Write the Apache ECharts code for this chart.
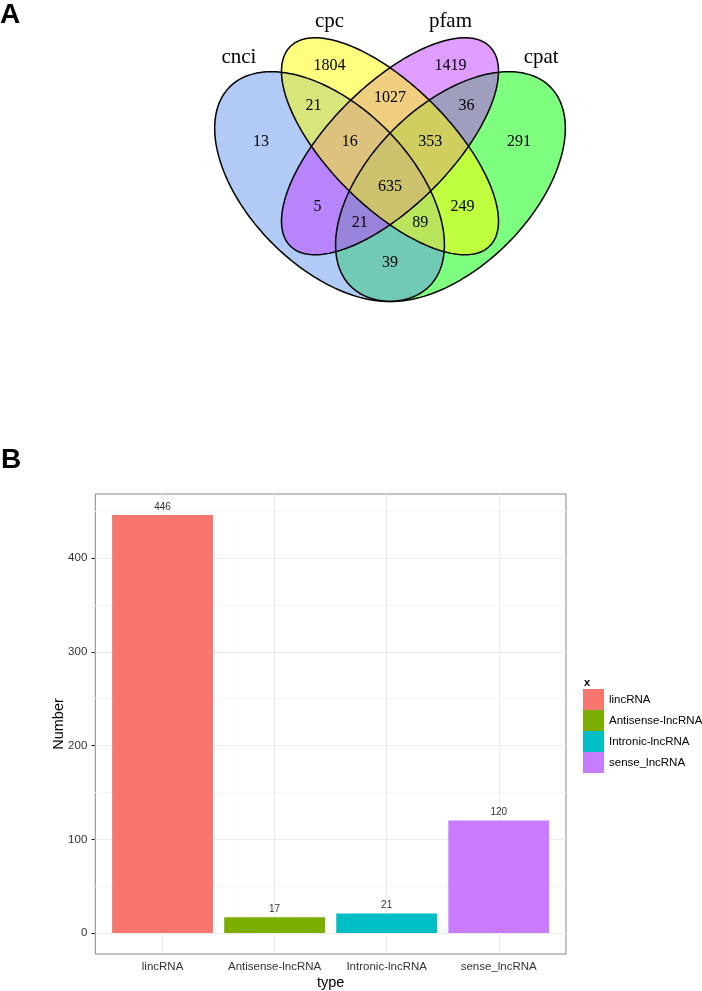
<!DOCTYPE html>
<html>
<head>
<meta charset="utf-8">
<script src="https://cdn.jsdelivr.net/npm/echarts@6/dist/echarts.min.js"></script>
<style>
  html, body { margin: 0; padding: 0; background: #fff; }
  #chart { width: 702px; height: 991px; }
</style>
</head>
<body>
<div id="chart"></div>
<script>
// panel A: four-set venn counts
const vennSets = ['cnci', 'cpc', 'pfam', 'cpat'];
const vennRegions = ['cpc', 'cpc&pfam', 'pfam', 'cnci&cpc', 'cnci&cpc&pfam', 'all', 'cpc&pfam&cpat', 'pfam&cpat',
  'cnci', 'cnci&pfam', 'cnci&pfam&cpat', 'cnci&cpc&cpat', 'cpc&cpat', 'cpat', 'cnci&cpat'];
const vennCounts = [1804, 1027, 1419, 21, 16, 635, 353, 36, 13, 5, 21, 89, 249, 291, 39];

// panel B: bar counts
const types = ['lincRNA', 'Antisense-lncRNA', 'Intronic-lncRNA', 'sense_lncRNA'];
const numbers = [446, 17, 21, 120];
const yTicks = [0, 100, 200, 300, 400];
const yMinor = [50, 150, 250, 350, 450];

// venn layout (unit square, like VennDiagram's quad layout), one row per set in vennSets order
const vennEllipses = [
  [0.35, 0.47, 0.35, 0.2, -45],
  [0.5, 0.57, 0.35, 0.15, -45],
  [0.5, 0.57, 0.35, 0.15, 45],
  [0.65, 0.47, 0.35, 0.2, 45]
];
const vennDrawOrder = [3, 0, 2, 1];
const vennLabelPos = [[0.35, 0.77], [0.5, 0.69], [0.65, 0.77], [0.31, 0.67], [0.4, 0.58], [0.5, 0.47], [0.6, 0.58],
  [0.69, 0.67], [0.18, 0.58], [0.32, 0.42], [0.425, 0.38], [0.575, 0.38], [0.68, 0.42], [0.82, 0.58], [0.5, 0.28]];
const vennSetLabelPos = [[0.125, 0.79], [0.35, 0.88], [0.65, 0.88], [0.875, 0.79]];
const vennFill = ['#6495ED', '#FFFF00', '#BF3EFF', '#00FF00'];
const barColors = ['#F8766D', '#7CAE00', '#00BFC4', '#C77CFF'];

const sans = 'Liberation Sans, Arial, sans-serif';
const serif = 'Liberation Serif, Times New Roman, serif';
const barGrid = { left: 95.3, top: 494, width: 470.7, height: 460 };

const chart = echarts.init(document.getElementById('chart'));

const ellipseRender = (filled) => (params, api) => {
  const k = vennDrawOrder[params.dataIndex];
  const [cx, cy, a, b, deg] = vennEllipses[k];
  const r = deg * Math.PI / 180;
  const pts = [];
  for (let i = 0; i < 200; i++) {
    const t = i / 200 * 2 * Math.PI;
    const ex = a * Math.cos(t), ey = b * Math.sin(t);
    pts.push(api.coord([cx + ex * Math.cos(r) - ey * Math.sin(r), cy + ex * Math.sin(r) + ey * Math.cos(r)]));
  }
  return {
    type: 'polygon',
    shape: { points: pts },
    style: filled
      ? { fill: vennFill[k], opacity: 0.5, stroke: null }
      : { fill: 'none', stroke: '#000', lineWidth: 1.5 }
  };
};

const textRender = (texts, size) => (params, api) => {
  const p = api.coord([api.value(0), api.value(1)]);
  return {
    type: 'text',
    x: p[0],
    y: p[1],
    style: {
      text: String(texts[params.dataIndex]),
      fontFamily: serif,
      fontSize: size,
      fill: '#000',
      align: 'center',
      verticalAlign: 'middle'
    }
  };
};

const barSeries = types.map((t, i) => ({
  name: t,
  type: 'bar',
  xAxisIndex: 1,
  yAxisIndex: 1,
  z: 10,
  barWidth: 0.9 * barGrid.width / 4.2,
  barGap: '-100%',
  data: [[i + 1, numbers[i]]],
  itemStyle: { color: barColors[i] },
  label: { show: true, position: 'top', distance: 3, fontSize: 10, color: '#333', fontFamily: sans }
}));

barSeries[0].markLine = {
  silent: true,
  symbol: ['none', 'none'],
  label: { show: false },
  animation: false,
  lineStyle: { color: '#ebebeb', width: 1, type: 'solid' },
  data: [
    ...yMinor.map(v => ({ yAxis: v, lineStyle: { color: '#f6f6f6', width: 1, type: 'solid' } })),
    ...yTicks.map(v => ({ yAxis: v })),
    ...types.map((t, i) => ({ xAxis: i + 1 }))
  ]
};

const option = {
  animation: false,
  backgroundColor: '#fff',
  title: [
    { text: 'A', left: 0, top: 1, padding: 0, textStyle: { fontSize: 28, fontWeight: 'bold', fontFamily: sans, color: '#000' } },
    { text: 'B', left: 1, top: 446, padding: 0, textStyle: { fontSize: 28, fontWeight: 'bold', fontFamily: sans, color: '#000' } },
    { text: 'x', left: 584, top: 677, padding: 0, textStyle: { fontSize: 11, fontWeight: 'bold', fontFamily: sans, color: '#000' } }
  ],
  legend: {
    data: types,
    orient: 'vertical',
    left: 583,
    top: 689,
    padding: 0,
    itemWidth: 21,
    itemHeight: 21,
    itemGap: 0,
    icon: 'rect',
    textStyle: { fontSize: 11.5, color: '#000', fontFamily: sans }
  },
  grid: [
    { left: 188.5, top: 1.2, width: 403, height: 354.6, show: false },
    { ...barGrid, show: true, borderColor: '#888', borderWidth: 1, backgroundColor: '#fff' }
  ],
  xAxis: [
    { gridIndex: 0, type: 'value', min: 0, max: 1, show: false },
    {
      gridIndex: 1,
      type: 'value',
      min: 0.4,
      max: 4.6,
      axisLine: { show: false },
      splitLine: { show: false },
      axisTick: { show: true, customValues: [1, 2, 3, 4], length: 4, lineStyle: { color: '#333' } },
      axisLabel: {
        customValues: [1, 2, 3, 4],
        formatter: v => types[Math.round(v) - 1],
        fontSize: 11.5,
        color: '#333',
        margin: 7,
        fontFamily: sans
      },
      name: 'type',
      nameLocation: 'middle',
      nameGap: 21,
      nameTextStyle: { fontSize: 14.5, color: '#000', fontFamily: sans }
    }
  ],
  yAxis: [
    { gridIndex: 0, type: 'value', min: 0.05, max: 0.93, show: false },
    {
      gridIndex: 1,
      type: 'value',
      min: -22.3,
      max: 468.3,
      axisLine: { show: false },
      splitLine: { show: false },
      axisTick: { show: true, customValues: yTicks, length: 4, lineStyle: { color: '#333' } },
      axisLabel: { customValues: yTicks, fontSize: 11.5, color: '#333', margin: 8, fontFamily: sans },
      name: 'Number',
      nameLocation: 'middle',
      nameRotate: 90,
      nameGap: 29,
      nameMoveOverlap: false,
      nameTextStyle: { fontSize: 14.5, color: '#000', fontFamily: sans }
    }
  ],
  series: [
    { type: 'custom', name: 'venn-fill', xAxisIndex: 0, yAxisIndex: 0, z: 1, silent: true,
      renderItem: ellipseRender(true), data: vennDrawOrder.map(k => [vennEllipses[k][0], vennEllipses[k][1]]) },
    { type: 'custom', name: 'venn-line', xAxisIndex: 0, yAxisIndex: 0, z: 2, silent: true,
      renderItem: ellipseRender(false), data: vennDrawOrder.map(k => [vennEllipses[k][0], vennEllipses[k][1]]) },
    { type: 'custom', name: 'venn-counts', xAxisIndex: 0, yAxisIndex: 0, z: 3, silent: true,
      renderItem: textRender(vennCounts, 16), data: vennLabelPos },
    { type: 'custom', name: 'venn-sets', xAxisIndex: 0, yAxisIndex: 0, z: 3, silent: true,
      renderItem: textRender(vennSets, 21), data: vennSetLabelPos },
    ...barSeries
  ]
};

chart.setOption(option);
</script>
</body>
</html>
